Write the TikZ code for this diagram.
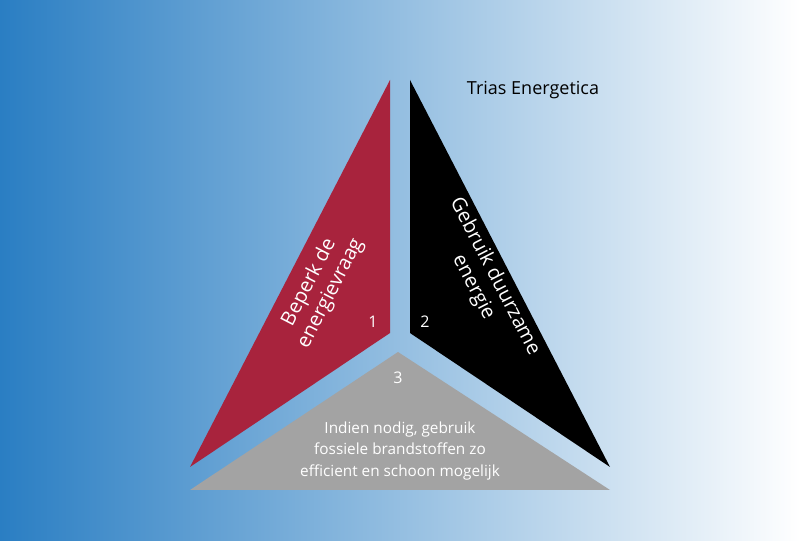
\documentclass[tikz,border=0pt]{standalone}
\usepackage{fontspec}
\setmainfont{Open Sans}
\usetikzlibrary{positioning}
\definecolor{trblue}{HTML}{2A7EC3}
\definecolor{trred}{HTML}{A8233D}
\definecolor{trgray}{HTML}{A3A3A3}
\tikzset{
  label text/.style={text=white, align=center, font=\fontsize{15}{18}\selectfont},
  number text/.style={text=white, font=\fontsize{12}{14}\selectfont},
}
\begin{document}
\begin{tikzpicture}[x=0.75pt,y=-0.75pt]

% Background
\shade[left color=trblue, right color=white] (0,0) rectangle (800,541);
\useasboundingbox (0,0) rectangle (800,541);

% Triangles
\fill[trred] (390,80) -- (390,333) -- (190,467) -- cycle;
\fill[black] (410,80) -- (410,333) -- (610,467) -- cycle;
\fill[trgray] (398,352) -- (610,490) -- (190,490) -- cycle;

% Labels
\node[label text, rotate=62.7] (limit) at (320,288) {Beperk de\\energievraag};
\node[label text, rotate=-62.7] (green) at (484,282) {Gebruik duurzame\\energie};
\node[text=white, align=center, font=\fontsize{11.5}{16}\selectfont] (fossil) at (400,451)
  {Indien nodig, gebruik\\fossiele brandstoffen zo\\efficient en schoon mogelijk};

% Numbers
\node[number text] (one) at (373,322) {1};
\node[number text] (two) at (425,322) {2};
\node[number text] (three) at (398,378) {3};

% Title
\node[font=\fontsize{13.5}{16}\selectfont] (title) at (533,90) {Trias Energetica};

\end{tikzpicture}
\end{document}
